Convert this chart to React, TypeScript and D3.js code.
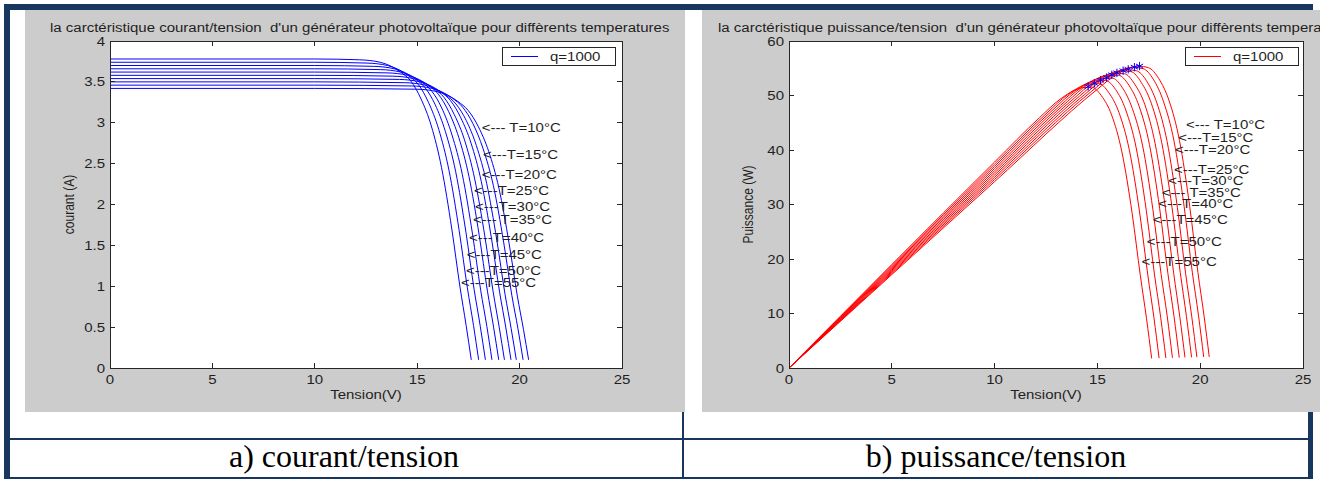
import React from 'react';
import * as d3 from 'd3';

// temperatures of the family of curves
const temperatures = [10, 15, 20, 25, 30, 35, 40, 45, 50, 55];
const tempLabels = [
  '<--- T=10°C', '<---T=15°C', '<---T=20°C', '<---T=25°C', '<---T=30°C',
  '<--- T=35°C', '<---T=40°C', '<---T=45°C', '<---T=50°C', '<---T=55°C',
];

const xTicks = [0, 5, 10, 15, 20, 25];
const currentTicks = [0, 0.5, 1, 1.5, 2, 2.5, 3, 3.5, 4];
const powerTicks = [0, 10, 20, 30, 40, 50, 60];

// courant/tension : [tension (V), courant (A)]
const ivT10 = [[0, 3.42], [10, 3.42], [14.99, 3.41], [15.99, 3.38], [16.99, 3.26], [17.49, 3.15], [17.99, 2.95], [18.49, 2.65], [18.99, 2.2], [19.49, 1.52], [19.89, 0.88], [20.19, 0.47], [20.44, 0.1]];
const ivT15 = [[0, 3.46], [10, 3.46], [14.72, 3.45], [15.72, 3.42], [16.72, 3.3], [17.22, 3.19], [17.72, 2.99], [18.22, 2.68], [18.72, 2.23], [19.22, 1.54], [19.62, 0.89], [19.92, 0.48], [20.17, 0.1]];
const ivT20 = [[0, 3.5], [10, 3.5], [14.39, 3.49], [15.39, 3.46], [16.39, 3.34], [16.89, 3.23], [17.39, 3.03], [17.89, 2.72], [18.39, 2.26], [18.89, 1.56], [19.29, 0.9], [19.59, 0.48], [19.84, 0.1]];
const ivT25 = [[0, 3.54], [10, 3.54], [14.13, 3.53], [15.13, 3.5], [16.13, 3.38], [16.63, 3.27], [17.13, 3.06], [17.63, 2.75], [18.13, 2.28], [18.63, 1.58], [19.03, 0.92], [19.33, 0.49], [19.58, 0.1]];
const ivT30 = [[0, 3.58], [10, 3.58], [13.81, 3.57], [14.81, 3.54], [15.81, 3.42], [16.31, 3.31], [16.81, 3.1], [17.31, 2.79], [17.81, 2.31], [18.31, 1.6], [18.71, 0.93], [19.01, 0.49], [19.26, 0.1]];
const ivT35 = [[0, 3.62], [10, 3.62], [13.53, 3.61], [14.53, 3.58], [15.53, 3.46], [16.03, 3.35], [16.53, 3.14], [17.03, 2.82], [17.53, 2.34], [18.03, 1.62], [18.43, 0.94], [18.73, 0.5], [18.98, 0.1]];
const ivT40 = [[0, 3.66], [10, 3.66], [13.2, 3.65], [14.2, 3.62], [15.2, 3.5], [15.7, 3.39], [16.2, 3.18], [16.7, 2.85], [17.2, 2.37], [17.7, 1.64], [18.1, 0.95], [18.4, 0.51], [18.65, 0.1]];
const ivT45 = [[0, 3.7], [10, 3.7], [12.88, 3.69], [13.88, 3.66], [14.88, 3.54], [15.38, 3.43], [15.88, 3.22], [16.38, 2.89], [16.88, 2.4], [17.38, 1.66], [17.78, 0.96], [18.08, 0.51], [18.33, 0.1]];
const ivT50 = [[0, 3.74], [10, 3.74], [12.55, 3.73], [13.55, 3.7], [14.55, 3.58], [15.05, 3.47], [15.55, 3.25], [16.05, 2.92], [16.55, 2.42], [17.05, 1.68], [17.45, 0.98], [17.75, 0.52], [18, 0.1]];
const ivT55 = [[0, 3.78], [10, 3.78], [12.19, 3.77], [13.19, 3.74], [14.19, 3.62], [14.69, 3.51], [15.19, 3.29], [15.69, 2.96], [16.19, 2.45], [16.69, 1.7], [17.09, 0.99], [17.39, 0.52], [17.64, 0.1]];

// puissance/tension : [tension (V), puissance (W)]
const pvT10 = [[0, 0], [10, 34.2], [14.99, 51.12], [15.99, 54.05], [16.99, 55.39], [17.49, 55.09], [17.99, 53.07], [18.49, 49], [18.99, 41.78], [19.49, 29.62], [19.89, 17.5], [20.19, 9.49], [20.44, 2.04]];
const pvT15 = [[0, 0], [10, 34.6], [14.72, 50.78], [15.72, 53.76], [16.72, 55.18], [17.22, 54.93], [17.72, 52.98], [18.22, 48.83], [18.72, 41.75], [19.22, 29.6], [19.62, 17.46], [19.92, 9.56], [20.17, 2.02]];
const pvT20 = [[0, 0], [10, 35], [14.39, 50.22], [15.39, 53.25], [16.39, 54.74], [16.89, 54.55], [17.39, 52.69], [17.89, 48.66], [18.39, 41.56], [18.89, 29.47], [19.29, 17.36], [19.59, 9.4], [19.84, 1.98]];
const pvT25 = [[0, 0], [10, 35.4], [14.13, 49.88], [15.13, 52.96], [16.13, 54.52], [16.63, 54.38], [17.13, 52.42], [17.63, 48.48], [18.13, 41.34], [18.63, 29.44], [19.03, 17.51], [19.33, 9.47], [19.58, 1.96]];
const pvT30 = [[0, 0], [10, 35.8], [13.81, 49.3], [14.81, 52.43], [15.81, 54.07], [16.31, 53.99], [16.81, 52.11], [17.31, 48.29], [17.81, 41.14], [18.31, 29.3], [18.71, 17.4], [19.01, 9.31], [19.26, 1.93]];
const pvT35 = [[0, 0], [10, 36.2], [13.53, 48.84], [14.53, 52.02], [15.53, 53.73], [16.03, 53.7], [16.53, 51.9], [17.03, 48.02], [17.53, 41.02], [18.03, 29.21], [18.43, 17.32], [18.73, 9.37], [18.98, 1.9]];
const pvT40 = [[0, 0], [10, 36.6], [13.2, 48.18], [14.2, 51.4], [15.2, 53.2], [15.7, 53.22], [16.2, 51.52], [16.7, 47.6], [17.2, 40.76], [17.7, 29.03], [18.1, 17.2], [18.4, 9.38], [18.65, 1.87]];
const pvT45 = [[0, 0], [10, 37], [12.88, 47.53], [13.88, 50.8], [14.88, 52.68], [15.38, 52.75], [15.88, 51.13], [16.38, 47.34], [16.88, 40.51], [17.38, 28.85], [17.78, 17.07], [18.08, 9.22], [18.33, 1.83]];
const pvT50 = [[0, 0], [10, 37.4], [12.55, 46.81], [13.55, 50.14], [14.55, 52.09], [15.05, 52.22], [15.55, 50.54], [16.05, 46.87], [16.55, 40.05], [17.05, 28.64], [17.45, 17.1], [17.75, 9.23], [18, 1.8]];
const pvT55 = [[0, 0], [10, 37.8], [12.19, 45.96], [13.19, 49.33], [14.19, 51.37], [14.69, 51.56], [15.19, 49.98], [15.69, 46.44], [16.19, 39.67], [16.69, 28.37], [17.09, 16.92], [17.39, 9.04], [17.64, 1.76]];

// points de puissance maximale (étoiles bleues)
const mppPoints = [[17.05, 55.4], [16.8, 55.2], [16.5, 54.8], [16.25, 54.55], [15.95, 54.15], [15.7, 53.8], [15.45, 53.3], [15.15, 52.8], [14.85, 52.25], [14.55, 51.65]];

// where the "<--- T=..°C" annotations sit, in data units
const ivLabelPos = [[18.15, 2.94], [18.21, 2.61], [18.15, 2.36], [17.77, 2.17], [17.82, 1.97], [17.72, 1.82], [17.53, 1.6], [17.42, 1.38], [17.38, 1.19], [17.14, 1.04]];
const pvLabelPos = [[19.31, 44.6], [18.93, 42.3], [18.78, 40.1], [18.73, 36.3], [18.45, 34.4], [18.13, 32.2], [17.96, 30.1], [17.69, 27.3], [17.4, 23.2], [17.15, 19.5]];

const ivCurves = [ivT10, ivT15, ivT20, ivT25, ivT30, ivT35, ivT40, ivT45, ivT50, ivT55];
const pvCurves = [pvT10, pvT15, pvT20, pvT25, pvT30, pvT35, pvT40, pvT45, pvT50, pvT55];

const NAVY = '#17375e';
const GRAY = '#cccccc';
const INK = '#1f1f1f';
const SANS = "'Liberation Sans', Arial, Helvetica, sans-serif";
const SX = 1.25; // the matlab figures are stretched horizontally
const FS = 12;
const AX_TOP = 41;
const AX_BOTTOM = 368;

function Txt({ x, y, anchor = 'start', rotate = 0, children }: any) {
  return (
    <text
      transform={`translate(${x},${y}) scale(${SX},1)${rotate ? ` rotate(${rotate})` : ''}`}
      textAnchor={anchor}
      fontSize={FS}
      fontFamily={SANS}
      fill={INK}
      xmlSpace="preserve"
      style={{ whiteSpace: 'pre' }}
    >
      {children}
    </text>
  );
}

function Chart(props: any) {
  const { axL, axR, yMax, yTicks, curves, color, labelPos, title, titleX, yLabel, yLabelX, legendX, stars } = props;
  const x = d3.scaleLinear().domain([0, 25]).range([axL, axR]);
  const y = d3.scaleLinear().domain([0, yMax]).range([AX_BOTTOM, AX_TOP]);
  const line = d3.line<number[]>().x(d => x(d[0])).y(d => y(d[1])).curve(d3.curveMonotoneX);
  const star = d3.symbol(d3.symbolAsterisk, 48)();
  const tk = 5;

  return (
    <g>
      <Txt x={titleX} y={31.5}>{title}</Txt>
      <rect x={axL} y={AX_TOP} width={axR - axL} height={AX_BOTTOM - AX_TOP} fill="#fff" />

      {curves.map((c: number[][], i: number) => (
        <path key={i} d={line(c) as string} fill="none" stroke={color} strokeWidth={1} />
      ))}

      {stars && stars.map((p: number[], i: number) => (
        <path key={'s' + i} d={star as string} transform={`translate(${x(p[0])},${y(p[1])})`}
          fill="none" stroke="#0000ff" strokeWidth={1} />
      ))}

      {/* box + inward ticks */}
      <g stroke="#262626" strokeWidth={1} shapeRendering="crispEdges" fill="none">
        <rect x={axL} y={AX_TOP} width={axR - axL} height={AX_BOTTOM - AX_TOP} />
        {xTicks.map(t => (
          <g key={'x' + t}>
            <line x1={x(t)} x2={x(t)} y1={AX_BOTTOM} y2={AX_BOTTOM - tk} />
            <line x1={x(t)} x2={x(t)} y1={AX_TOP} y2={AX_TOP + tk} />
          </g>
        ))}
        {yTicks.map((t: number) => (
          <g key={'y' + t}>
            <line x1={axL} x2={axL + tk} y1={y(t)} y2={y(t)} />
            <line x1={axR} x2={axR - tk} y1={y(t)} y2={y(t)} />
          </g>
        ))}
      </g>

      {xTicks.map(t => (
        <Txt key={'xl' + t} x={x(t)} y={384} anchor="middle">{String(t)}</Txt>
      ))}
      {yTicks.map((t: number) => (
        <Txt key={'yl' + t} x={axL - 5} y={y(t) + 4.5} anchor="end">{String(t)}</Txt>
      ))}

      <Txt x={(axL + axR) / 2} y={399} anchor="middle">Tension(V)</Txt>
      <Txt x={yLabelX} y={(AX_TOP + AX_BOTTOM) / 2} anchor="middle" rotate={-90}>{yLabel}</Txt>

      {labelPos.map((p: number[], i: number) => (
        <Txt key={'t' + temperatures[i]} x={x(p[0])} y={y(p[1]) + 4.3}>{tempLabels[i]}</Txt>
      ))}

      {/* legend */}
      <rect x={legendX} y={47.5} width={113} height={18} fill="#fff" stroke="#262626" strokeWidth={1} shapeRendering="crispEdges" />
      <line x1={legendX + 9} x2={legendX + 36} y1={56.5} y2={56.5} stroke={color} strokeWidth={1} />
      <Txt x={legendX + 48} y={61.3}>q=1000</Txt>
    </g>
  );
}

export default function App() {
  return (
    <svg width={1330} height={479} style={{ position: 'absolute', left: 0, top: 0, background: '#fff' }}>
      <defs>
        <clipPath id="clipRight">
          <rect x={702} y={10} width={618} height={402} />
        </clipPath>
      </defs>

      {/* table borders */}
      <g fill={NAVY}>
        <rect x={4} y={4} width={1309} height={6} />
        <rect x={4} y={4} width={6} height={476} />
        <rect x={1308} y={4} width={5} height={476} />
        <rect x={4} y={477} width={1309} height={3} />
        <rect x={4} y={438} width={1309} height={2} />
        <rect x={682} y={4} width={2} height={476} />
      </g>

      <rect x={25} y={10} width={660} height={402} fill={GRAY} />
      <rect x={702} y={10} width={618} height={402} fill={GRAY} />

      <Chart
        axL={110} axR={622} yMax={4} yTicks={currentTicks} curves={ivCurves} color="#0000ff"
        labelPos={ivLabelPos} titleX={50}
        title="la carctéristique courant/tension  d'un générateur photovoltaïque pour diffèrents temperatures"
        yLabel="courant (A)" yLabelX={74} legendX={502}
      />
      <g clipPath="url(#clipRight)">
        <Chart
          axL={789} axR={1303} yMax={60} yTicks={powerTicks} curves={pvCurves} color="#ff0000"
          labelPos={pvLabelPos} titleX={718}
          title="la carctéristique puissance/tension  d'un générateur photovoltaïque pour diffèrents temperatures"
          yLabel="Puissance (W)" yLabelX={753} legendX={1185} stars={mppPoints}
        />
      </g>

      <text x={344} y={467} textAnchor="middle" fontSize={32} fontFamily="'Liberation Serif', 'Times New Roman', serif" fill="#000">a) courant/tension</text>
      <text x={996} y={467} textAnchor="middle" fontSize={32} fontFamily="'Liberation Serif', 'Times New Roman', serif" fill="#000">b) puissance/tension</text>
    </svg>
  );
}
